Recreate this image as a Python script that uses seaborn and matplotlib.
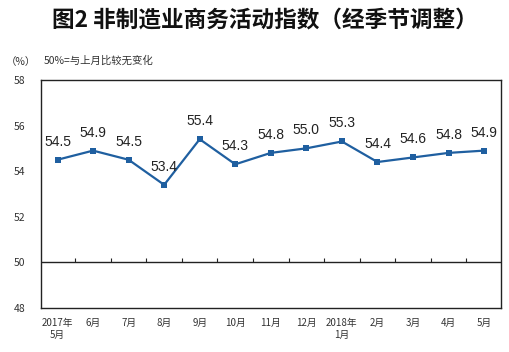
import numpy as np
import pandas as pd
import matplotlib
matplotlib.use('Agg')
import matplotlib.pyplot as plt
import seaborn as sns

# dados
meses = ['2017年\n5月', '6月', '7月', '8月', '9月', '10月', '11月', '12月',
         '2018年\n1月', '2月', '3月', '4月', '5月']
indice = [54.5, 54.9, 54.5, 53.4, 55.4, 54.3, 54.8, 55.0, 55.3, 54.4, 54.6, 54.8, 54.9]
y_ticks = [48, 50, 52, 54, 56, 58]
linha_ref = 50

sns.set_style('white')
plt.rcParams['font.family'] = ['Noto Sans CJK SC', 'DejaVu Sans']

df = pd.DataFrame({'pos': np.arange(len(meses)), 'valor': indice})

fig = plt.figure(figsize=(5.1, 3.52), dpi=100)
ax = fig.add_axes([0.080, 0.125, 0.902, 0.648])

cor = '#1f5fa0'
sns.lineplot(data=df, x='pos', y='valor', ax=ax, color=cor, linewidth=1.6,
             marker='s', markersize=4.5, markeredgewidth=0, markerfacecolor=cor)

for x, v in zip(df['pos'], df['valor']):
    ax.annotate(f'{v:.1f}', (x, v), xytext=(0, 13), textcoords='offset points',
                ha='center', va='center', fontsize=10, color='#222222',
                family=['Liberation Sans', 'DejaVu Sans'])

ax.set_xlim(-0.47, len(meses) - 0.53)
ax.set_ylim(48, 58)
ax.set_yticks(y_ticks)
ax.set_yticklabels([str(t) for t in y_ticks], fontsize=7.5, color='#333333')
ax.set_xticks(df['pos'])
ax.set_xticklabels(meses, fontsize=7, color='#333333', linespacing=1.3)
ax.tick_params(axis='both', length=0)
ax.tick_params(axis='y', pad=11)
ax.tick_params(axis='x', pad=7)
ax.set_xlabel('')
ax.set_ylabel('')

# linha de referência em 50 com marcas (para cima) entre os meses
ax.axhline(linha_ref, color='#222222', linewidth=1.0)
divisas = df['pos'][:-1] + 0.5
ax.plot(divisas, np.full(len(divisas), linha_ref), linestyle='none', marker=2,
        markersize=3, markeredgewidth=0.8, color='#222222')

for s in ax.spines.values():
    s.set_visible(True)
    s.set_color('#222222')
    s.set_linewidth(1.0)

fig.text(0.52, 0.943, '图2 非制造业商务活动指数（经季节调整）', ha='center', va='center',
         fontsize=16.3, fontweight='bold', color='#111111')
fig.text(0.040, 0.823, '（%）', ha='center', va='center', fontsize=7.5, color='#333333')
fig.text(0.086, 0.829, '50%=与上月比较无变化', ha='left', va='center', fontsize=7.5,
         color='#333333')

fig.savefig('out.png', dpi=100)
